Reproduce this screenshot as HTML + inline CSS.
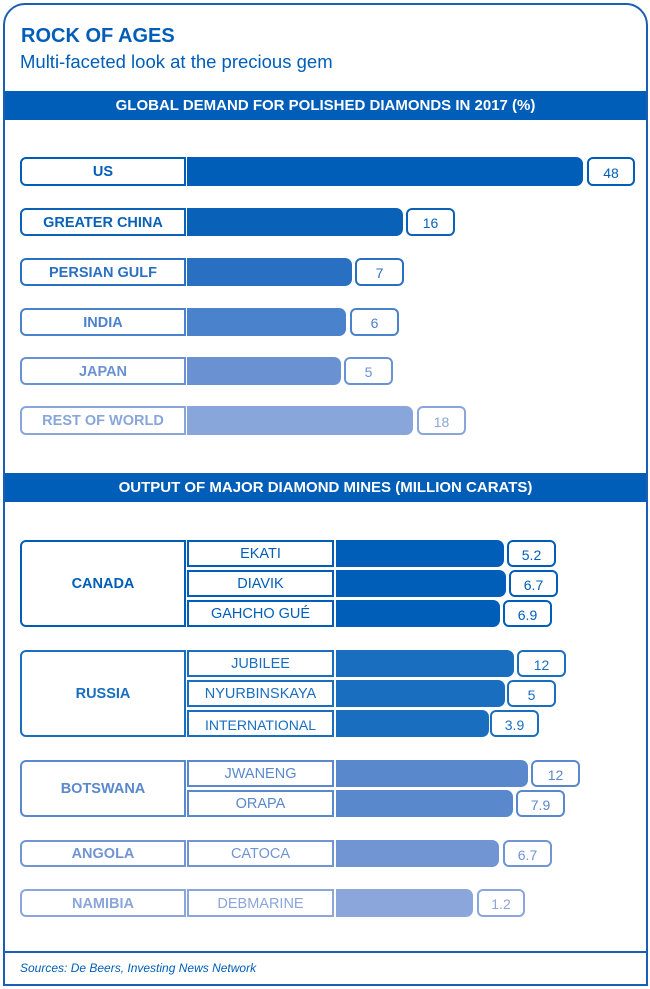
<!DOCTYPE html>
<html><head><meta charset="utf-8"><style>
*{margin:0;padding:0;box-sizing:border-box}
body{width:650px;height:989px;background:#fff;position:relative;font-family:"Liberation Sans",sans-serif;overflow:hidden}
.a{position:absolute}
.frame{left:3px;top:3px;width:645px;height:983px;border:2px solid #1a5fb4;border-radius:22px 22px 0 0}
.hdr{left:5px;width:641px;height:29px;background:#005eb8;color:#fff;font-weight:bold;font-size:15px;text-align:center;line-height:30px}
.lb,.mb,.vb{line-height:1;padding-top:2px}
.lb{border:2px solid;border-radius:6px 0 0 6px;text-align:center;font-weight:bold;font-size:14.5px;display:flex;align-items:center;justify-content:center;background:#fff}
.mb{border:2px solid;text-align:center;font-size:14.5px;display:flex;align-items:center;justify-content:center;background:#fff}
.bar{border-radius:0 7px 7px 0}
.vb{border:2px solid;border-radius:6px;text-align:center;font-size:14px;display:flex;align-items:center;justify-content:center;background:#fff}
</style></head><body>
<div class="a frame"></div>
<div class="a" style="left:21px;top:25px;font-size:20px;font-weight:bold;color:#005eb8">ROCK OF AGES</div>
<div class="a" style="left:20px;top:51px;font-size:18.5px;color:#005eb8">Multi-faceted look at the precious gem</div>
<div class="a hdr" style="top:91px">GLOBAL DEMAND FOR POLISHED DIAMONDS IN 2017 (%)</div>
<div class="a hdr" style="top:473px">OUTPUT OF MAJOR DIAMOND MINES (MILLION CARATS)</div>

<div class="a lb" style="left:20px;top:157px;width:166px;height:29px;border-color:#005eb8;color:#005eb8">US</div>
<div class="a bar" style="left:187px;top:157px;width:396px;height:29px;background:#005eb8"></div>
<div class="a vb" style="left:587px;top:157px;width:48px;height:29px;border-color:#005eb8;color:#005eb8">48</div>

<div class="a lb" style="left:20px;top:208px;width:166px;height:28px;border-color:#0a62b8;color:#0a62b8">GREATER CHINA</div>
<div class="a bar" style="left:187px;top:208px;width:216px;height:28px;background:#0a62b8"></div>
<div class="a vb" style="left:406px;top:208px;width:49px;height:28px;border-color:#0a62b8;color:#0a62b8">16</div>

<div class="a lb" style="left:20px;top:258px;width:166px;height:28px;border-color:#2a70c2;color:#2a70c2">PERSIAN GULF</div>
<div class="a bar" style="left:187px;top:258px;width:165px;height:28px;background:#2a70c2"></div>
<div class="a vb" style="left:355px;top:258px;width:49px;height:28px;border-color:#2a70c2;color:#2a70c2">7</div>

<div class="a lb" style="left:20px;top:308px;width:166px;height:28px;border-color:#4a82cc;color:#4a82cc">INDIA</div>
<div class="a bar" style="left:187px;top:308px;width:159px;height:28px;background:#4a82cc"></div>
<div class="a vb" style="left:350px;top:308px;width:49px;height:28px;border-color:#4a82cc;color:#4a82cc">6</div>

<div class="a lb" style="left:20px;top:357px;width:166px;height:28px;border-color:#6a92d2;color:#6a92d2">JAPAN</div>
<div class="a bar" style="left:187px;top:357px;width:154px;height:28px;background:#6a92d2"></div>
<div class="a vb" style="left:344px;top:357px;width:49px;height:28px;border-color:#6a92d2;color:#6a92d2">5</div>

<div class="a lb" style="left:20px;top:406px;width:166px;height:29px;border-color:#88a6da;color:#88a6da">REST OF WORLD</div>
<div class="a bar" style="left:187px;top:406px;width:226px;height:29px;background:#88a6da"></div>
<div class="a vb" style="left:417px;top:406px;width:49px;height:29px;border-color:#88a6da;color:#88a6da">18</div>

<div class="a lb" style="left:20px;top:540px;width:166px;height:87px;border-color:#005eb8;color:#005eb8">CANADA</div>
<div class="a mb" style="left:187px;top:540px;width:147px;height:27px;border-color:#005eb8;color:#005eb8">EKATI</div>
<div class="a bar" style="left:336px;top:540px;width:168px;height:27px;background:#005eb8"></div>
<div class="a vb" style="left:507px;top:540px;width:49px;height:27px;border-color:#005eb8;color:#005eb8">5.2</div>
<div class="a mb" style="left:187px;top:570px;width:147px;height:27px;border-color:#005eb8;color:#005eb8">DIAVIK</div>
<div class="a bar" style="left:336px;top:570px;width:170px;height:27px;background:#005eb8"></div>
<div class="a vb" style="left:509px;top:570px;width:49px;height:27px;border-color:#005eb8;color:#005eb8">6.7</div>
<div class="a mb" style="left:187px;top:600px;width:147px;height:27px;border-color:#005eb8;color:#005eb8">GAHCHO GUÉ</div>
<div class="a bar" style="left:336px;top:600px;width:164px;height:27px;background:#005eb8"></div>
<div class="a vb" style="left:503px;top:600px;width:49px;height:27px;border-color:#005eb8;color:#005eb8">6.9</div>

<div class="a lb" style="left:20px;top:650px;width:166px;height:87px;border-color:#196ec0;color:#196ec0">RUSSIA</div>
<div class="a mb" style="left:187px;top:650px;width:147px;height:27px;border-color:#196ec0;color:#196ec0">JUBILEE</div>
<div class="a bar" style="left:336px;top:650px;width:178px;height:27px;background:#196ec0"></div>
<div class="a vb" style="left:517px;top:650px;width:49px;height:27px;border-color:#196ec0;color:#196ec0">12</div>
<div class="a mb" style="left:187px;top:680px;width:147px;height:27px;border-color:#196ec0;color:#196ec0">NYURBINSKAYA</div>
<div class="a bar" style="left:336px;top:680px;width:169px;height:27px;background:#196ec0"></div>
<div class="a vb" style="left:507px;top:680px;width:49px;height:27px;border-color:#196ec0;color:#196ec0">5</div>
<div class="a mb" style="left:187px;top:710px;width:147px;height:27px;border-color:#196ec0;color:#196ec0;font-size:14px">INTERNATIONAL</div>
<div class="a bar" style="left:336px;top:710px;width:153px;height:27px;background:#196ec0"></div>
<div class="a vb" style="left:490px;top:710px;width:49px;height:27px;border-color:#196ec0;color:#196ec0">3.9</div>

<div class="a lb" style="left:20px;top:760px;width:166px;height:57px;border-color:#5a88cc;color:#5a88cc">BOTSWANA</div>
<div class="a mb" style="left:187px;top:760px;width:147px;height:27px;border-color:#5a88cc;color:#5a88cc">JWANENG</div>
<div class="a bar" style="left:336px;top:760px;width:192px;height:27px;background:#5a88cc"></div>
<div class="a vb" style="left:531px;top:760px;width:49px;height:27px;border-color:#5a88cc;color:#5a88cc">12</div>
<div class="a mb" style="left:187px;top:790px;width:147px;height:27px;border-color:#5a88cc;color:#5a88cc">ORAPA</div>
<div class="a bar" style="left:336px;top:790px;width:177px;height:27px;background:#5a88cc"></div>
<div class="a vb" style="left:516px;top:790px;width:49px;height:27px;border-color:#5a88cc;color:#5a88cc">7.9</div>

<div class="a lb" style="left:20px;top:840px;width:166px;height:27px;border-color:#7194d2;color:#7194d2">ANGOLA</div>
<div class="a mb" style="left:187px;top:840px;width:147px;height:27px;border-color:#7194d2;color:#7194d2">CATOCA</div>
<div class="a bar" style="left:336px;top:840px;width:163px;height:27px;background:#7194d2"></div>
<div class="a vb" style="left:503px;top:840px;width:49px;height:27px;border-color:#7194d2;color:#7194d2">6.7</div>

<div class="a lb" style="left:20px;top:889px;width:166px;height:28px;border-color:#8aa6da;color:#8aa6da">NAMIBIA</div>
<div class="a mb" style="left:187px;top:889px;width:147px;height:28px;border-color:#8aa6da;color:#8aa6da">DEBMARINE</div>
<div class="a bar" style="left:336px;top:889px;width:137px;height:28px;background:#8aa6da"></div>
<div class="a vb" style="left:477px;top:889px;width:48px;height:28px;border-color:#8aa6da;color:#8aa6da">1.2</div>

<div class="a" style="left:5px;top:951px;width:641px;height:2px;background:#1a5fb4"></div>
<div class="a" style="left:20px;top:961px;font-size:12px;font-style:italic;color:#005eb8">Sources: De Beers, Investing News Network</div>
</body></html>
